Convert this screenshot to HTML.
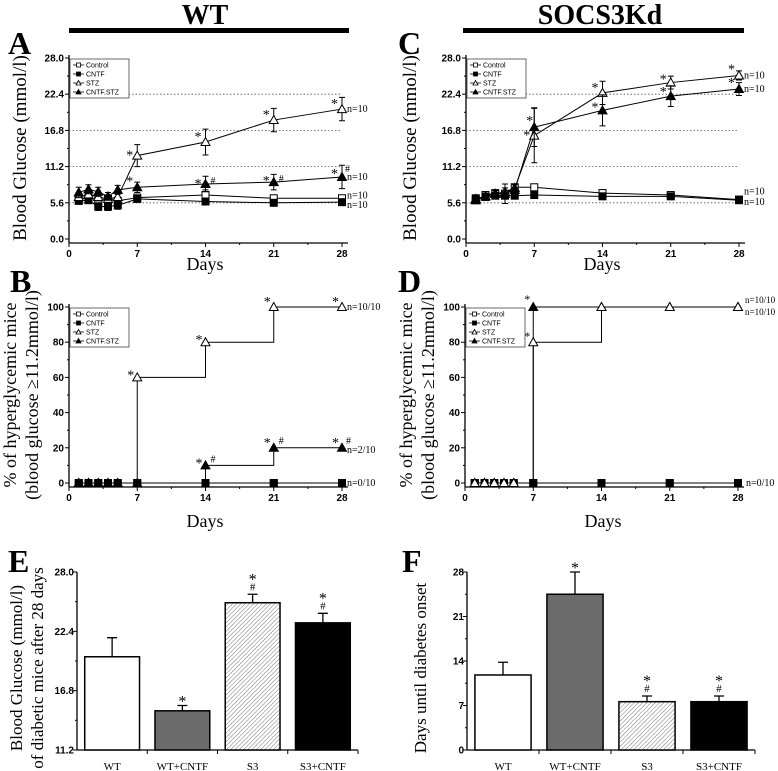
<!DOCTYPE html>
<html><head><meta charset="utf-8"><style>
body{margin:0;background:#fff}
svg{display:block}
.tk{font:bold 10px "Liberation Sans",sans-serif}
.sf{font-family:"Liberation Serif",serif}
.lg{font:7px "Liberation Sans",sans-serif}
</style></head><body>
<svg id="fig" width="778" height="771" viewBox="0 0 778 771">
<text x="205" y="24" text-anchor="middle" class="sf" font-size="28" font-weight="bold">WT</text>
<rect x="69" y="28" width="280" height="5" fill="#000"/>
<text x="600" y="24" text-anchor="middle" class="sf" font-size="28" font-weight="bold">SOCS3Kd</text>
<rect x="463" y="28" width="281" height="5" fill="#000"/>
<g class="sf" font-size="32" font-weight="bold">
<text x="8" y="54">A</text>
<text x="398" y="54">C</text>
<text x="10" y="292">B</text>
<text x="398" y="292">D</text>
<text x="8" y="572">E</text>
<text x="402" y="572">F</text>
</g>
</svg>
<script>
const days=[1,2,3,4,5,7,14,21,28];
const aControl=[6.0,6.5,5.9,6.2,5.9,6.4,6.8,6.3,6.3];
const aCNTF=[5.9,6.0,5.0,5.0,5.2,6.2,5.8,5.6,5.7];
const aSTZ=[6.5,6.9,6.5,6.2,6.5,12.9,15.0,18.4,20.1];
const aCNTFSTZ=[7.2,7.7,7.3,6.6,7.6,8.0,8.5,8.8,9.6];
const aErr=[[0.6,0.5,0.6,0.5,0.6,0.5,0.8,0.5,0.5],[0.5,0.5,0.6,0.6,0.6,0.5,0.5,0.4,0.4],[0.7,0.6,0.6,0.6,0.6,1.7,2.0,1.8,1.8],[0.8,0.7,0.7,0.6,0.7,0.8,1.2,1.2,1.8]];
const cControl=[6.0,6.8,7.1,7.0,8.0,8.0,7.1,6.8,6.1];
const cCNTF=[6.3,6.5,6.7,6.7,6.7,6.8,6.6,6.6,6.0];
const cSTZ=[6.2,6.6,7.0,7.3,7.9,16.0,22.6,24.2,25.3];
const cCNTFSTZ=[6.0,6.6,7.0,7.0,7.6,17.3,19.9,22.1,23.2];
const cErr=[[0.4,0.4,0.5,0.5,0.5,0.4,0.5,0.4,0.4],[0.4,0.4,0.4,0.4,0.4,0.4,0.4,0.4,0.4],[0.5,0.5,0.5,0.6,0.6,4.2,1.8,1.0,0.7],[0.4,0.5,0.5,1.5,0.8,3.0,2.4,1.6,1.0]];
const bControl=[0,0,0,0,0,0,0,0,0];
const bCNTF=[0,0,0,0,0,0,0,0,0];
const bSTZ=[0,0,0,0,0,60,80,100,100];
const bCNTFSTZ=[0,0,0,0,0,0,10,20,20];
const dControl=[0,0,0,0,0,0,0,0,0];
const dCNTF=[0,0,0,0,0,0,0,0,0];
const dSTZ=[0,0,0,0,0,80,100,100,100];
const dCNTFSTZ=[0,0,0,0,0,100,100,100,100];
const barCats=['WT','WT+CNTF','S3','S3+CNTF'];
const eVals=[20.0,14.9,25.1,23.2];
const eErr=[1.8,0.5,0.8,0.9];
const fVals=[11.8,24.5,7.6,7.6];
const fErr=[2.0,3.5,0.9,0.9];
const glucTicks=['0.0','5.6','11.2','16.8','22.4','28.0'];
const pctTicks=['0','20','40','60','80','100'];
const dayTicks=['0','7','14','21','28'];
const eTicks=['11.2','16.8','22.4','28.0'];
const fTicks=['0','7','14','21','28'];

const NS='http://www.w3.org/2000/svg';
const fig=document.getElementById('fig');
function mk(tag,at,parent,txt){const e=document.createElementNS(NS,tag);for(const k in at)e.setAttribute(k,at[k]);if(txt!==undefined)e.textContent=txt;(parent||fig).appendChild(e);return e;}

function marker(g,type,x,y){
  let m;
  if(type==='sq'||type==='osq'){m=mk('rect',{x:x-3.5,y:y-3.5,width:7,height:7,fill:type==='sq'?'#000':'#fff',stroke:'#000','stroke-width':1},g);}
  else{m=mk('path',{d:`M${x-4.5},${y+3.5}L${x},${y-4.5}L${x+4.5},${y+3.5}Z`,fill:type==='tri'?'#000':'#fff',stroke:'#000','stroke-width':1},g);}
  
  
}

function lineChart(id,L,T,B,xs,series,errs,opts){
  const g=mk('g',{});
  
  
  const X0=L,X28=L+273;
  const sx=d=>X0+d*(X28-X0)/28;
  const sy=v=>B-(v-opts.ymin)/(opts.ymax-opts.ymin)*(B-T);
  mk('line',{x1:L,y1:T-3,x2:L,y2:B+4,stroke:'#000','stroke-width':1.3},g);
  mk('line',{x1:L,y1:B+4,x2:X28+6,y2:B+4,stroke:'#000','stroke-width':1.3},g);
  if(opts.grid){opts.grid.forEach(v=>{const ln=mk('line',{x1:L,x2:X28,y1:sy(v),y2:sy(v),stroke:'#555','stroke-width':0.8,'stroke-dasharray':'1.5,2'},g);});}
  opts.yticks.forEach((t,i)=>{const v=parseFloat(t);const y=sy(v);
    mk('line',{x1:L-4,x2:L,y1:y,y2:y,stroke:'#000'},g);
    const tx=mk('text',{x:L-5,y:y+3.5,'text-anchor':'end',class:'tk'},g,t);
    
    if(i<opts.yticks.length-1){const v2=parseFloat(opts.yticks[i+1]);const ym=sy((v+v2)/2);mk('line',{x1:L-2,x2:L,y1:ym,y2:ym,stroke:'#000'},g);}
  });
  dayTicks.forEach((t,i)=>{const d=parseFloat(t);const x=sx(d);
    mk('line',{x1:x,x2:x,y1:B+4,y2:B+8,stroke:'#000'},g);
    if(i<dayTicks.length-1){const xm=sx(d+3.5);mk('line',{x1:xm,x2:xm,y1:B+4,y2:B+6,stroke:'#000'},g);}
    const tx=mk('text',{x:x,y:B+18,'text-anchor':'middle',class:'tk'},g,t);
    
  });
  const types=['osq','sq','otri','tri'];
  series.forEach((s,si)=>{
    let d='';
    xs.forEach((x,i)=>{const px=sx(x),py=sy(s[i]);
      if(i===0)d+=`M${px},${py}`;
      else if(opts.step)d+=`H${px}V${py}`;
      else d+=`L${px},${py}`;});
    const p=mk('path',{d:d,fill:'none',stroke:'#000','stroke-width':1},g);
    
  });
  const order=opts.order||[0,1,2,3];
  order.forEach(si=>{const s=series[si];
    xs.forEach((x,i)=>{const px=sx(x),py=sy(s[i]);
      if(errs){const e=errs[si][i];const y1=sy(s[i]+e),y2=sy(s[i]-e);
        mk('path',{d:`M${px},${y1}V${y2}M${px-3},${y1}h6M${px-3},${y2}h6`,stroke:'#000','stroke-width':1,fill:'none'},g);}
      marker(g,types[si],px,py);
    });
  });
  const lg=mk('g',{},g);
  
  mk('rect',{x:L+1,y:T+1,width:59,height:39,fill:'#fff',stroke:'#444','stroke-width':0.8},lg);
  ['Control','CNTF','STZ','CNTF.STZ'].forEach((n,i)=>{const y=T+7+i*9;
    const le=mk('g',{},lg);
    mk('line',{x1:L+4,x2:L+15,y1:y,y2:y,stroke:'#000','stroke-width':0.8},le);
    const sc=types[i];
    if(sc==='osq'||sc==='sq')mk('rect',{x:L+7.5,y:y-2,width:4,height:4,fill:sc==='sq'?'#000':'#fff',stroke:'#000','stroke-width':0.8},le);
    else mk('path',{d:`M${L+7},${y+2}L${L+9.5},${y-2.5}L${L+12},${y+2}Z`,fill:sc==='tri'?'#000':'#fff',stroke:'#000','stroke-width':0.8},le);
    mk('text',{x:L+17,y:y+2.5,class:'lg'},le,n);
  });
  (opts.ann||[]).forEach(a=>{const t=mk('text',{x:sx(a[0])+a[3],y:sy(a[1])+a[4],class:'sf','font-size':a[5]||10},g,a[2]);});
  return {sx,sy};
}

lineChart('chart-a',69,58,239,days,[aControl,aCNTF,aSTZ,aCNTFSTZ],aErr,{ymin:0,ymax:28,yticks:glucTicks,grid:[5.6,11.2,16.8,22.4],
 ann:[[7,aSTZ[5],'*',-11,4,14],[14,aSTZ[6],'*',-11,-1,14],[21,aSTZ[7],'*',-11,-1,14],[28,aSTZ[8],'*',-11,-1,14],[28,aSTZ[8],'n=10',5,3],
 [7,aCNTFSTZ[5],'*',-11,-2,14],[14,aCNTFSTZ[6],'*',-11,4,14],[14,aCNTFSTZ[6],'#',5,0],[21,aCNTFSTZ[7],'*',-11,3,14],[21,aCNTFSTZ[7],'#',5,0],[28,aCNTFSTZ[8],'*',-11,1,14],[28,aCNTFSTZ[8],'#',3,-5],[28,aCNTFSTZ[8],'n=10',5,3],
 [28,aControl[8],'n=10',5,0],[28,aCNTF[8],'n=10',5,6]]});
lineChart('chart-c',466,58,239,days,[cControl,cCNTF,cSTZ,cCNTFSTZ],cErr,{ymin:0,ymax:28,yticks:glucTicks,grid:[5.6,11.2,16.8,22.4],
 ann:[[7,cSTZ[5],'*',-11,4,14],[7,cCNTFSTZ[5],'*',-8,-2,14],[14,cSTZ[6],'*',-11,-1,14],[14,cCNTFSTZ[6],'*',-11,1,14],[21,cSTZ[7],'*',-11,1,14],[21,cCNTFSTZ[7],'*',-11,0,14],[28,cSTZ[8],'*',-11,-2,14],[28,cCNTFSTZ[8],'*',-11,-2,14],
 [28,cSTZ[8],'n=10',5,3],[28,cCNTFSTZ[8],'n=10',5,3],[28,cControl[8],'n=10',5,-5],[28,cCNTF[8],'n=10',5,5]]});
lineChart('chart-b',69,307,483,days,[bControl,bCNTF,bSTZ,bCNTFSTZ],null,{ymin:0,ymax:100,yticks:pctTicks,step:true,
 ann:[[7,60,'*',-10,2,14],[14,80,'*',-10,2,14],[21,100,'*',-10,-1,14],[28,100,'*',-10,-1,14],[28,100,'n=10/10',5,3],
 [14,10,'*',-10,2,14],[14,10,'#',5,-3],[21,20,'*',-10,-1,14],[21,20,'#',5,-4],[28,20,'*',-10,-1,14],[28,20,'#',4,-4],[28,20,'n=2/10',5,5],[28,0,'n=0/10',5,3]]});
lineChart('chart-d',465,307,483,days,[dControl,dCNTF,dSTZ,dCNTFSTZ],null,{ymin:0,ymax:100,yticks:pctTicks,step:true,order:[0,1,3,2],
 ann:[[7,100,'*',-9,-4,12],[7,80,'*',-9,-2,12],[28,100,'n=10/10',7,-4,9],[28,100,'n=10/10',7,8,9],[28,0,'n=0/10',8,3]]});

function barChart(id,L,R,T,B,ymin,ymax,ticks,vals,errs,ann){
  const g=mk('g',{});
  
  const sy=v=>B-(v-ymin)/(ymax-ymin)*(B-T);
  const band=(R-L)/barCats.length;
  mk('line',{x1:L,y1:T,x2:L,y2:B,stroke:'#000','stroke-width':1.3},g);
  mk('line',{x1:L,y1:B,x2:R,y2:B,stroke:'#000','stroke-width':1.3},g);
  ticks.forEach((t,i)=>{const v=parseFloat(t),y=sy(v);
    mk('line',{x1:L-4,x2:L,y1:y,y2:y,stroke:'#000'},g);
    const tx=mk('text',{x:L-3,y:y+3.5,'text-anchor':'end',class:'tk','font-size':9},g,t);
    
    if(i<ticks.length-1){const ym=sy((v+parseFloat(ticks[i+1]))/2);mk('line',{x1:L-2,x2:L,y1:ym,y2:ym,stroke:'#000'},g);}
  });
  const fills=['#fff','#6b6b6b','url(#hatch)','#000'];
  barCats.forEach((c,i)=>{const cx=L+band*(i+0.5);const w=band*0.78;
    mk('line',{x1:L+band*(i+1),x2:L+band*(i+1),y1:B,y2:B+4,stroke:'#000'},g);
    const y=sy(vals[i]);
    const ey=sy(vals[i]+errs[i]);
    mk('path',{d:`M${cx},${y}V${ey}M${cx-5},${ey}h10`,stroke:'#000','stroke-width':1.3,fill:'none'},g);
    const r=mk('rect',{x:cx-w/2,y:y,width:w,height:B-y,fill:fills[i],stroke:'#000','stroke-width':1.5},g);
    
    const tx=mk('text',{x:cx,y:B+20,'text-anchor':'middle',class:'sf','font-size':11},g,c);
    
    if(ann[i]){const parts=ann[i];
      if(parts.includes('#')){mk('text',{x:cx,y:ey-4,'text-anchor':'middle',class:'sf','font-size':11},g,'#');mk('text',{x:cx,y:ey-10,'text-anchor':'middle',class:'sf','font-size':16},g,'*');}
      else mk('text',{x:cx,y:ey+1,'text-anchor':'middle',class:'sf','font-size':16},g,'*');}
  });
}
const defs=mk('defs',{});
const pat=mk('pattern',{id:'hatch',width:3,height:3,patternUnits:'userSpaceOnUse',patternTransform:'rotate(45)'},defs);
mk('rect',{width:3,height:3,fill:'#fff'},pat);
mk('line',{x1:0,y1:0,x2:0,y2:3,stroke:'#777','stroke-width':1},pat);
barChart('chart-e',77,358,572,750,11.2,28,eTicks,eVals,eErr,['','*','*#','*#']);
barChart('chart-f',467,755,572,750,0,28,fTicks,fVals,fErr,['','*','*#','*#']);
</script>
<svg style="position:absolute;left:0;top:0" width="778" height="771">
<g font-family="Liberation Serif,serif">
<text transform="translate(26,148) rotate(-90)" text-anchor="middle" font-size="19">Blood Glucose (mmol/l)</text>
<text transform="translate(416,148) rotate(-90)" text-anchor="middle" font-size="19">Blood Glucose (mmol/l)</text>
<text x="205" y="270" text-anchor="middle" font-size="18">Days</text>
<text x="602" y="270" text-anchor="middle" font-size="18">Days</text>
<text transform="translate(16,395) rotate(-90)" text-anchor="middle" font-size="18">% of hyperglycemic mice</text>
<text transform="translate(38,395) rotate(-90)" text-anchor="middle" font-size="18">(blood glucose ≥11.2mmol/l)</text>
<text transform="translate(412,395) rotate(-90)" text-anchor="middle" font-size="18">% of hyperglycemic mice</text>
<text transform="translate(434,395) rotate(-90)" text-anchor="middle" font-size="18">(blood glucose ≥11.2mmol/l)</text>
<text x="205" y="527" text-anchor="middle" font-size="18">Days</text>
<text x="603" y="527" text-anchor="middle" font-size="18">Days</text>
<text transform="translate(22,668) rotate(-90)" text-anchor="middle" font-size="17">Blood Glucose (mmol/l)</text>
<text transform="translate(43,668) rotate(-90)" text-anchor="middle" font-size="17">of diabetic mice after 28 days</text>
<text transform="translate(426,668) rotate(-90)" text-anchor="middle" font-size="17">Days until diabetes onset</text>
</g>
</svg>
</body></html>
